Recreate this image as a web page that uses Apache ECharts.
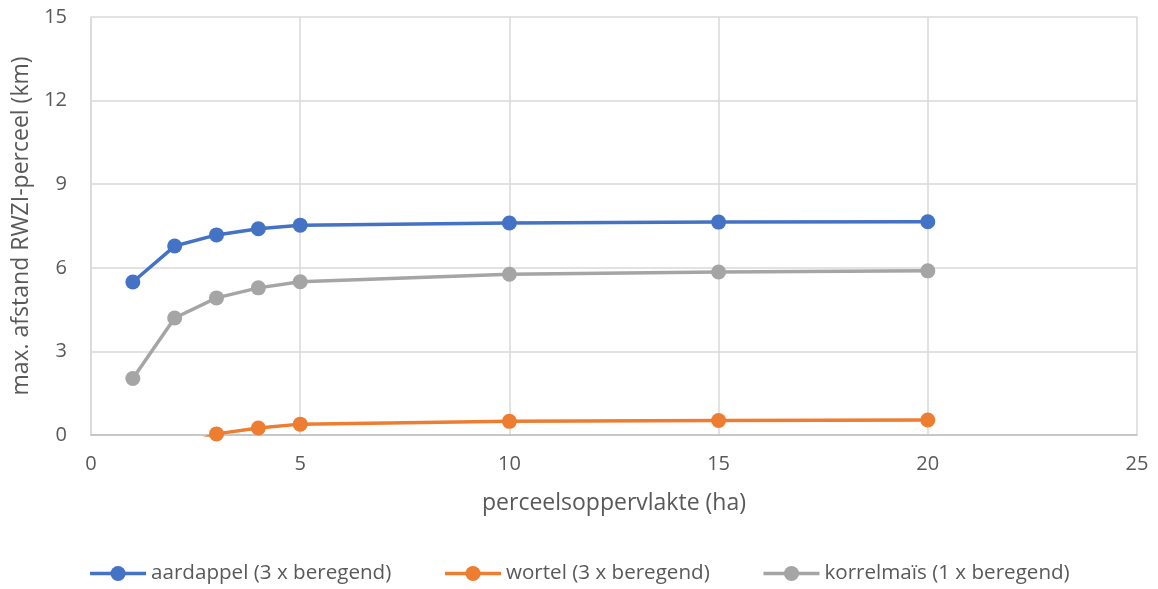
<!DOCTYPE html>
<html>
<head>
<meta charset="utf-8">
<script src="https://cdn.jsdelivr.net/npm/echarts@6/dist/echarts.min.js"></script>
<style>
html,body{margin:0;padding:0;background:#fff;}
#chart{width:1158px;height:589px;}
</style>
</head>
<body>
<div id="chart"></div>
<script>
const xValues = [1, 2, 3, 4, 5, 10, 15, 20];
const aardappel = [5.49, 6.78, 7.18, 7.40, 7.53, 7.61, 7.64, 7.65];
const wortel = [-1.5, -0.5, 0.04, 0.25, 0.39, 0.49, 0.52, 0.54];
const korrelmais = [2.03, 4.20, 4.92, 5.28, 5.50, 5.77, 5.85, 5.89];
const seriesNames = ['aardappel (3 x beregend)', 'wortel (3 x beregend)', 'korrelmaïs (1 x beregend)'];
const seriesColors = ['#4472C4', '#ED7D31', '#A5A5A5'];
const xTitle = 'perceelsoppervlakte (ha)';
const yTitle = 'max. afstand RWZI-perceel (km)';

const font = '"Open Sans", "Noto Sans", sans-serif';
const pairs = arr => xValues.map((x, i) => [x, arr[i]]);
const datasets = [aardappel, wortel, korrelmais];

const chart = echarts.init(document.getElementById('chart'));
chart.setOption({
  animation: false,
  textStyle: { fontFamily: font },
  grid: { left: 91, right: 21, top: 17, bottom: 154 },
  legend: {
    bottom: 0,
    left: 'center',
    itemWidth: 56,
    itemHeight: 19,
    itemGap: 52,
    lineStyle: { width: 3.5 },
    textStyle: { color: '#595959', fontSize: 20.6, fontFamily: font },
    data: seriesNames
  },
  xAxis: {
    type: 'value',
    min: 0, max: 25, interval: 5,
    name: xTitle,
    nameLocation: 'middle',
    nameGap: 57,
    nameTextStyle: { color: '#595959', fontSize: 23, fontFamily: font },
    axisLine: { show: true, lineStyle: { color: '#bfbfbf', width: 1.5 } },
    axisTick: { show: false },
    axisLabel: { color: '#595959', fontSize: 20, margin: 19, fontFamily: font },
    splitLine: { show: true, lineStyle: { color: '#d9d9d9', width: 1.5 } }
  },
  yAxis: {
    type: 'value',
    min: 0, max: 15, interval: 3,
    name: yTitle,
    nameLocation: 'middle',
    nameGap: 52,
    nameTextStyle: { color: '#595959', fontSize: 23, fontFamily: font },
    axisLine: { show: true, lineStyle: { color: '#d9d9d9', width: 1.5 } },
    axisTick: { show: false },
    axisLabel: { color: '#595959', fontSize: 20, margin: 24, fontFamily: font },
    splitLine: { show: true, lineStyle: { color: '#d9d9d9', width: 1.5 } }
  },
  series: seriesNames.map((name, i) => ({
    name,
    type: 'line',
    data: pairs(datasets[i]),
    clip: true,
    symbol: 'circle',
    symbolSize: 15,
    color: seriesColors[i],
    itemStyle: { color: seriesColors[i] },
    lineStyle: { color: seriesColors[i], width: 3.5 }
  }))
});
</script>
</body>
</html>
